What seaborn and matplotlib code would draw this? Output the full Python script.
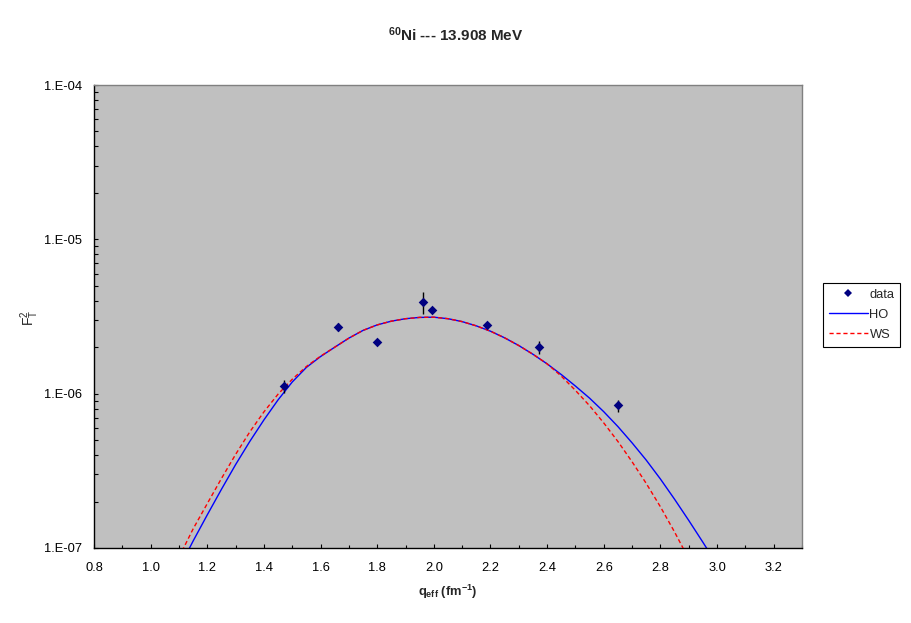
import numpy as np
import pandas as pd
import matplotlib
matplotlib.use("Agg")
import matplotlib.pyplot as plt
import seaborn as sns
from matplotlib.ticker import MultipleLocator, LogLocator, FuncFormatter, NullFormatter
from matplotlib.lines import Line2D

# ---- data ----
q_data = [1.472, 1.660, 1.801, 1.960, 1.995, 2.186, 2.370, 2.649]
f2_data = [1.12e-6, 2.69e-6, 2.15e-6, 3.91e-6, 3.47e-6, 2.79e-6, 2.00e-6, 8.4e-7]
f2_lo = [1.01e-6, 2.55e-6, 2.15e-6, 3.30e-6, 3.47e-6, 2.79e-6, 1.82e-6, 7.64e-7]
f2_hi = [1.23e-6, 2.87e-6, 2.15e-6, 4.56e-6, 3.47e-6, 2.79e-6, 2.19e-6, 9.10e-7]

q_ho = [1.10, 1.15, 1.20, 1.25, 1.30, 1.35, 1.40, 1.45, 1.50, 1.55, 1.60, 1.65, 1.70,
        1.75, 1.80, 1.85, 1.90, 1.95, 2.00, 2.05, 2.10, 2.15, 2.20, 2.25, 2.30, 2.35,
        2.40, 2.45, 2.50, 2.55, 2.60, 2.65, 2.70, 2.75, 2.80, 2.85, 2.90, 2.95, 3.00]
f2_ho = [7.36e-8, 1.11e-7, 1.64e-7, 2.40e-7, 3.47e-7, 4.90e-7, 6.76e-7, 9.12e-7,
         1.19e-6, 1.48e-6, 1.74e-6, 2.00e-6, 2.29e-6, 2.57e-6, 2.79e-6, 2.95e-6,
         3.06e-6, 3.12e-6, 3.13e-6, 3.06e-6, 2.93e-6, 2.75e-6, 2.54e-6, 2.30e-6,
         2.05e-6, 1.80e-6, 1.56e-6, 1.33e-6, 1.12e-6, 9.35e-7, 7.64e-7, 6.12e-7,
         4.80e-7, 3.71e-7, 2.80e-7, 2.07e-7, 1.51e-7, 1.09e-7, 7.8e-8]

q_ws = [1.10, 1.15, 1.20, 1.25, 1.30, 1.35, 1.40, 1.45, 1.50, 1.55, 1.60, 1.65, 1.70,
        1.75, 1.80, 1.85, 1.90, 1.95, 2.00, 2.05, 2.10, 2.15, 2.20, 2.25, 2.30, 2.35,
        2.40, 2.45, 2.50, 2.55, 2.60, 2.65, 2.70, 2.75, 2.80, 2.85, 2.90]
f2_ws = [8.71e-8, 1.33e-7, 1.94e-7, 2.82e-7, 4.04e-7, 5.65e-7, 7.62e-7, 9.93e-7,
         1.24e-6, 1.50e-6, 1.75e-6, 2.00e-6, 2.29e-6, 2.57e-6, 2.79e-6, 2.95e-6,
         3.06e-6, 3.12e-6, 3.13e-6, 3.06e-6, 2.93e-6, 2.75e-6, 2.54e-6, 2.30e-6,
         2.05e-6, 1.80e-6, 1.56e-6, 1.30e-6, 1.05e-6, 8.35e-7, 6.46e-7, 4.90e-7,
         3.62e-7, 2.62e-7, 1.85e-7, 1.27e-7, 8.5e-8]

x_ticks = [0.8, 1.0, 1.2, 1.4, 1.6, 1.8, 2.0, 2.2, 2.4, 2.6, 2.8, 3.0, 3.2]

sns.set_theme(style="white")
plt.rcParams["font.family"] = ["Liberation Sans", "DejaVu Sans"]
plt.rcParams["mathtext.fontset"] = "custom"
plt.rcParams["mathtext.rm"] = "Liberation Sans"
plt.rcParams["mathtext.it"] = "Liberation Sans"
plt.rcParams["mathtext.bf"] = "Liberation Sans:bold"

W, H = 911, 623
fig = plt.figure(figsize=(W / 100, H / 100), dpi=100)
fig.patch.set_facecolor("white")
L, R, T, B = 94, 802, 85, 548
ax = fig.add_axes([L / W, 1 - B / H, (R - L) / W, (B - T) / H])
ax.set_facecolor("#C0C0C0")
ax.set_yscale("log")

df_ho = pd.DataFrame({"q": q_ho, "F2": f2_ho})
df_ws = pd.DataFrame({"q": q_ws, "F2": f2_ws})
df_d = pd.DataFrame({"q": q_data, "F2": f2_data})

sns.lineplot(data=df_ho, x="q", y="F2", ax=ax, color="#0000FF", lw=1.0,
             sort=False, estimator=None, zorder=2)
sns.lineplot(data=df_ws, x="q", y="F2", ax=ax, color="#FF0000", lw=1.0,
             sort=False, estimator=None, zorder=3)
ax.lines[-1].set_dashes([3, 2])

ax.vlines(q_data, f2_lo, f2_hi, color="black", lw=1.0, zorder=4)
sns.scatterplot(data=df_d, x="q", y="F2", ax=ax, marker="D", s=24, color="#000080",
                linewidth=0, zorder=5)

ax.set_xlim(0.8, 3.3)
ax.set_ylim(1e-7, 1e-4)
ax.set_xlabel("")
ax.set_ylabel("")

ax.set_xticks(x_ticks)
ax.set_xticklabels([f"{v:.1f}" for v in x_ticks])
ax.xaxis.set_minor_locator(MultipleLocator(0.1))
ax.yaxis.set_major_locator(LogLocator(base=10, numticks=10))
ax.yaxis.set_minor_locator(LogLocator(base=10, subs=np.arange(2, 10), numticks=20))
ax.yaxis.set_major_formatter(FuncFormatter(lambda v, p: f"1.E-{int(round(-np.log10(v))):02d}"))
ax.yaxis.set_minor_formatter(NullFormatter())

ax.tick_params(axis="both", which="both", direction="in", color="black",
               labelsize=9.3, labelcolor="black", bottom=True, left=True,
               top=False, right=False)
ax.tick_params(axis="x", which="major", length=3, width=0.8, pad=10)
ax.tick_params(axis="x", which="minor", length=2, width=0.8)
ax.tick_params(axis="y", which="major", length=3, width=0.8, pad=8.5)
ax.tick_params(axis="y", which="minor", length=3, width=0.8)

for s in ["left", "bottom"]:
    ax.spines[s].set_color("black")
    ax.spines[s].set_linewidth(1.0)
for s in ["top", "right"]:
    ax.spines[s].set_color("#808080")
    ax.spines[s].set_linewidth(1.0)

fig.text(455.5 / W, 1 - 35 / H, r"$^{\mathbf{60}}$Ni --- 13.908 MeV",
         ha="center", va="center", fontsize=11, fontweight="bold")
fig.text(448 / W, 1 - 592 / H, r"$\mathbf{q_{eff}}$ (fm$\mathbf{^{-1}}$)",
         ha="center", va="center", fontsize=9.3, fontweight="bold")
fig.text(30 / W, 1 - 318 / H, r"F$_\mathrm{T}^\mathrm{2}$", rotation=90,
         ha="center", va="center", fontsize=10)

handles = [
    Line2D([], [], linestyle="none", marker="D", markersize=4.5, color="#000080",
           markeredgewidth=0),
    Line2D([], [], color="#0000FF", lw=1.0),
    Line2D([], [], color="#FF0000", lw=1.0, dashes=[3, 2]),
]
leg = fig.legend(handles, ["data", "HO", "WS"], loc="upper left",
                 bbox_to_anchor=(823 / W, 1 - 283 / H), bbox_transform=fig.transFigure,
                 fontsize=9.3, frameon=True, fancybox=False, framealpha=1,
                 edgecolor="black", handlelength=3.0, handletextpad=0.15,
                 borderpad=0.45, labelspacing=0.62, borderaxespad=0)
leg.get_frame().set_linewidth(0.8)

fig.savefig("out.png", dpi=100, facecolor="white")
